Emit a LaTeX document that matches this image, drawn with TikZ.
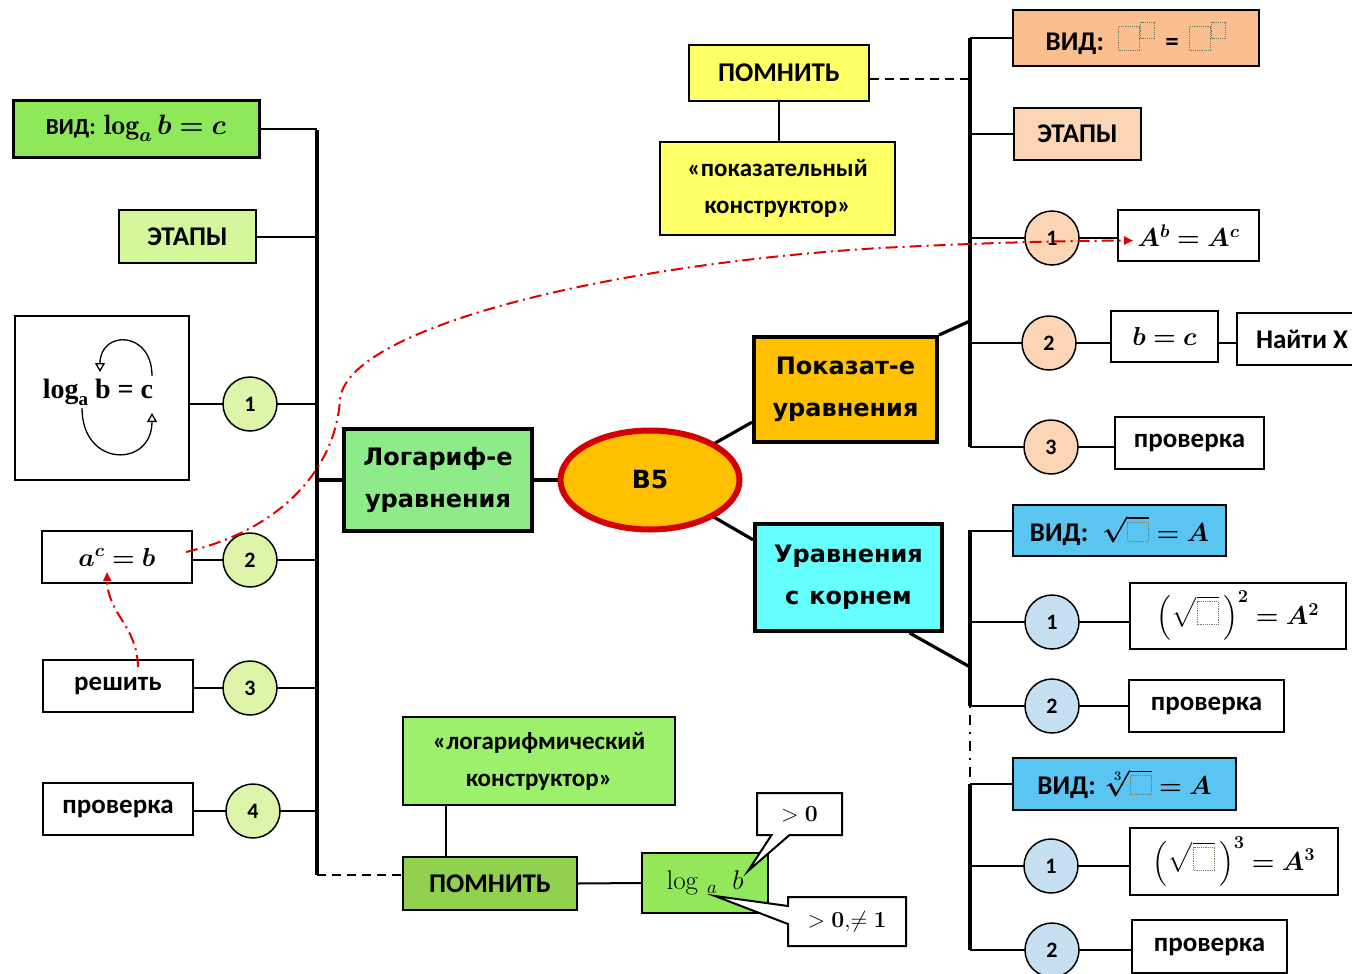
\RequirePackage{fix-cm}
\documentclass[tikz,border=0pt]{standalone}
\usepackage{amsmath,bm}
\usepackage{fontspec}
\usetikzlibrary{arrows.meta,shapes.geometric,shapes.callouts,backgrounds,calc}
\newfontfamily\calfont{Carlito}
\newfontfamily\dvs{DejaVu Sans}
\newfontfamily\tms{Liberation Serif}
\definecolor{gVid}{HTML}{8FE85A}
\definecolor{gEtap}{HTML}{D4F79C}
\definecolor{gCirc}{HTML}{DCF5AA}
\definecolor{gHead}{HTML}{8EEB8A}
\definecolor{gKon}{HTML}{9CF06B}
\definecolor{gPom}{HTML}{92D050}
\definecolor{gLog}{HTML}{92E85A}
\definecolor{orng}{HTML}{FFC000}
\definecolor{b5red}{HTML}{D40000}
\definecolor{cyanH}{HTML}{66FFFF}
\definecolor{yel}{HTML}{FFFF66}
\definecolor{peachV}{HTML}{FBBE8E}
\definecolor{peachL}{HTML}{FCD5B4}
\definecolor{blueV}{HTML}{5BC5F2}
\definecolor{blueC}{HTML}{C6E0F2}
\definecolor{redc}{HTML}{E00000}
\definecolor{phcol}{HTML}{6F7F60}
\newcommand{\phb}[2]{\tikz[baseline=0pt]\draw[phcol,densely dotted,line width=1.2pt] (0pt,0pt) rectangle (#1,#2);}
\newcommand{\phsup}{\phb{21pt}{24pt}\raisebox{12pt}{\phb{14pt}{16pt}}}
\begin{document}
\begin{tikzpicture}[x=1pt,y=-1pt,
  bx/.style={draw, line width=2pt, inner sep=0pt, align=center, text=black},
  lbl/.style={font=\calfont\bfseries\fontsize{27}{37}\selectfont},
  hdr/.style={font=\dvs\bfseries\fontsize{24}{42}\selectfont},
  mth/.style={font=\fontsize{26}{30}\selectfont},
  circ/.style={circle, draw, line width=1.5pt, minimum size=54, inner sep=0pt, font=\calfont\bfseries\fontsize{22}{24}\selectfont},
  ln/.style={line width=2pt},
  trunk/.style={line width=3.2pt},
  redline/.style={draw=redc, line width=2pt, dash pattern=on 12pt off 5pt on 2pt off 5pt},
  co/.style={bx, rectangle callout, fill=white, callout pointer width=18pt, font=\fontsize{23}{26}\selectfont}
]
\useasboundingbox (0,0) rectangle (1352,974);

% ---------- left branch ----------
\node[bx, lbl, line width=3pt, fill=gVid, minimum width=246, minimum height=57] (vidL) at (136,128.5)
  {{\fontsize{23}{25}\selectfont ВИД:}\hspace{8pt}{\fontsize{28}{30}\selectfont$\boldsymbol{\log_a b = c}$}};
\node[bx, lbl, fill=gEtap, minimum width=137, minimum height=53] (etapL) at (187.5,236.5) {ЭТАПЫ};
\node[bx, fill=white, minimum width=174, minimum height=164] (loopbox) at (102,398) {};
\node[font=\tms\bfseries\fontsize{28}{30}\selectfont, inner sep=0pt] (looptxt) at (98,392)
  {log\raisebox{-7pt}{\fontsize{19}{19}\selectfont a} b = c};
\node[circ, fill=gCirc] (c1L) at (250,404) {1};
\node[bx, mth, fill=white, minimum width=150, minimum height=52] (acb) at (117,557) {$\boldsymbol{a^{c} = b}$};
\node[circ, fill=gCirc] (c2L) at (250,560) {2};
\node[bx, lbl, fill=white, minimum width=150, minimum height=52] (resh) at (118,686) {решить};
\node[circ, fill=gCirc] (c3L) at (250,688) {3};
\node[bx, lbl, fill=white, minimum width=150, minimum height=52] (provL) at (118,809) {проверка};
\node[circ, fill=gCirc] (c4L) at (253,811) {4};

\node[bx, hdr, line width=4pt, fill=gHead, minimum width=188, minimum height=102] (logeq) at (438,480) {Логариф-е\\уравнения};
\node[ellipse, draw=b5red, line width=6pt, fill=orng, minimum width=179, minimum height=99, inner sep=0pt,
  font=\dvs\bfseries\fontsize{25}{28}\selectfont] (B5) at (650,480) {B5};
\node[bx, hdr, line width=4pt, fill=orng, minimum width=183, minimum height=105] (pokaz) at (845.5,389.5) {Показат-е\\уравнения};
\node[bx, hdr, line width=4pt, fill=cyanH, minimum width=187, minimum height=107] (koren) at (848.5,577.5) {Уравнения\\с\hspace{10pt}корнем};

% ---------- bottom ----------
\node[bx, fill=gKon, minimum width=272, minimum height=88, font=\calfont\bfseries\fontsize{25}{37}\selectfont] (konstrL) at (539,761) {«логарифмический\\конструктор»};
\node[bx, lbl, fill=gPom, minimum width=174, minimum height=53] (pomnL) at (490,883.5) {ПОМНИТЬ};
\node[bx, fill=gLog, minimum width=126, minimum height=60, font=\fontsize{27}{30}\selectfont] (logab) at (705,883) {$\log\,{}_{a}\;\; b$};
\coordinate (pb) at (748,871);
\coordinate (pa) at (715,896);
\node[co, callout absolute pointer={(pb)}, minimum width=85, minimum height=42] (gt0) at (799.5,814) {$>\boldsymbol{0}$};
\node[co, callout absolute pointer={(pa)}, minimum width=118, minimum height=49] (gt01) at (847,921.5) {$>\boldsymbol{0},\!\neq \boldsymbol{1}$};

% ---------- upper right ----------
\node[bx, lbl, fill=yel, minimum width=180, minimum height=56] (pomnR) at (779,73) {ПОМНИТЬ};
\node[bx, fill=yel, minimum width=235, minimum height=93, font=\calfont\bfseries\fontsize{25}{37}\selectfont] (konstrR) at (777.5,188.5) {«показательный\\конструктор»};
\node[bx, lbl, fill=peachV, minimum width=246, minimum height=56] (vidR) at (1136,38)
  {ВИД:\hspace{14pt}\phsup\hspace{10pt}=\hspace{10pt}\phsup};
\node[bx, lbl, fill=peachL, minimum width=127, minimum height=52] (etapR) at (1077.5,134) {ЭТАПЫ};
\node[circ, fill=peachL] (c1R) at (1052,238) {1};
\node[bx, mth, fill=white, minimum width=141, minimum height=51] (AbAc) at (1188.5,235.5) {$\boldsymbol{A^{b} = A^{c}}$};
\node[circ, fill=peachL] (c2R) at (1049,343) {2};
\node[bx, mth, fill=white, minimum width=107, minimum height=51] (bc) at (1164.5,336.5) {$\boldsymbol{b = c}$};
\node[bx, lbl, fill=white, minimum width=130, minimum height=52] (naiti) at (1302,339) {Найти X};
\node[circ, fill=peachL] (c3R) at (1051,447) {3};
\node[bx, lbl, fill=white, minimum width=149, minimum height=52] (provR) at (1189.5,443) {проверка};

% ---------- lower right ----------
\node[bx, lbl, fill=blueV, minimum width=213, minimum height=51] (vidSq) at (1119.5,530.5)
  {ВИД:\hspace{14pt}{\fontsize{26}{30}\selectfont$\boldsymbol{\sqrt{\mbox{\phb{21pt}{19pt}}} = A}$}};
\node[circ, fill=blueC] (c1S) at (1052,622) {1};
\node[bx, mth, fill=white, minimum width=216, minimum height=66] (sq2) at (1238,616)
  {$\boldsymbol{\left(\sqrt{\mbox{\phb{21pt}{23pt}}}\,\right)^{2} = A^{2}}$};
\node[circ, fill=blueC] (c2S) at (1052,706) {2};
\node[bx, lbl, fill=white, minimum width=155, minimum height=52] (provS) at (1206.5,706) {проверка};
\node[bx, lbl, fill=blueV, minimum width=223, minimum height=52] (vidCb) at (1124.5,784)
  {ВИД:\hspace{10pt}{\fontsize{26}{30}\selectfont$\boldsymbol{\sqrt[3]{\mbox{\phb{21pt}{19pt}}} = A}$}};
\node[circ, fill=blueC] (c1C) at (1051,866) {1};
\node[bx, mth, fill=white, minimum width=208, minimum height=67] (cb3) at (1234,861.5)
  {$\boldsymbol{\left(\sqrt{\mbox{\phb{21pt}{23pt}}}\,\right)^{3} = A^{3}}$};
\node[circ, fill=blueC] (c2C) at (1052,950) {2};
\node[bx, lbl, fill=white, minimum width=155, minimum height=53] (provC) at (1209.5,946.5) {проверка};

% ---------- connectors ----------
\begin{scope}[on background layer]
  \coordinate (LT) at (317,130);
  \coordinate (LB) at (317,875);
  \draw[trunk] (LT) -- (LB);
  \draw[ln] (vidL.east) -- (vidL.east -| LT);
  \draw[ln] (etapL.east) -- (etapL.east -| LT);
  \draw[ln] (c1L.center -| loopbox.east) -- (c1L.center -| LT);
  \draw[ln] (c2L.center -| acb.east) -- (c2L.center -| LT);
  \draw[ln] (c3L.center -| resh.east) -- (c3L.center -| LT);
  \draw[ln] (c4L.center -| provL.east) -- (c4L.center -| LT);
  \draw[trunk] (logeq.west -| LT) -- (logeq.west);
  \draw[trunk] (logeq.east) -- (B5.center);
  \draw[ln, dash pattern=on 9pt off 6pt] (LB) -- (LB -| pomnL.west);
  \draw[ln] ($(konstrL.south west)+(44,0)$) -- ($(pomnL.north west)+(44,0)$);
  \draw[ln] (pomnL.east) -- (logab.west);

  \coordinate (pkA) at ($(pokaz.south west)!0.2!(pokaz.north west)$);
  \draw[trunk] (B5.center) -- (pkA);
  \coordinate (krA) at ($(koren.north west)!0.16!(koren.south west)$);
  \draw[trunk] (B5.center) -- (krA);

  \coordinate (RT) at (970,38);
  \coordinate (RB) at (970,447);
  \coordinate (RJ) at (970,321);
  \draw[trunk] (RT) -- (RB);
  \draw[trunk] (pokaz.north east) -- (RJ);
  \draw[ln] (vidR.west) -- (vidR.west -| RT);
  \draw[ln, dash pattern=on 9pt off 6pt] ([yshift=-6pt]pomnR.east) -- ([yshift=-6pt]pomnR.east -| RT);
  \draw[ln] (pomnR.south) -- (pomnR.south |- konstrR.north);
  \draw[ln] (etapR.west) -- (etapR.west -| RT);
  \draw[ln] (c1R.center -| RT) -- (c1R.center -| AbAc.west);
  \draw[ln] (c2R.center -| RT) -- (c2R.center -| naiti.west);
  \draw[ln] (c3R.center -| RT) -- (c3R.center -| provR.west);

  \coordinate (RT2) at (970,530);
  \coordinate (RM1) at (970,706);
  \coordinate (RM2) at (970,784);
  \coordinate (RB2) at (970,950);
  \coordinate (RJ2) at (970,667);
  \draw[trunk] (RT2) -- (RM1);
  \draw[ln, dash pattern=on 2pt off 7pt on 10pt off 7pt] (RM1) -- (RM2);
  \draw[trunk] (RM2) -- (RB2);
  \coordinate (kB) at ($(koren.south west)!0.82!(koren.south east)$);
  \draw[trunk] (kB) -- (RJ2);
  \draw[ln] (vidSq.west) -- (vidSq.west -| RT2);
  \draw[ln] (c1S.center -| RT2) -- (c1S.center -| sq2.west);
  \draw[ln] (c2S.center -| RT2) -- (c2S.center -| provS.west);
  \draw[ln] (vidCb.west) -- (vidCb.west -| RT2);
  \draw[ln] (c1C.center -| RT2) -- (c1C.center -| cb3.west);
  \draw[ln] (c2C.center -| RT2) -- (c2C.center -| provC.west);
\end{scope}

% loop arrows in the log box
\draw[line width=1.3pt, -{Triangle[open, length=9pt, width=10pt]}]
  ($(loopbox)+(50,-22)$) .. controls ($(loopbox)+(50,-68)$) and ($(loopbox)+(-2,-68)$) .. ($(loopbox)+(-2,-26)$);
\draw[line width=1.3pt, -{Triangle[open, length=9pt, width=10pt]}]
  ($(loopbox)+(-20,10)$) .. controls ($(loopbox)+(-20,70)$) and ($(loopbox)+(50,70)$) .. ($(loopbox)+(50,15)$);

% red dash-dot curves
\draw[redline, -{Triangle[length=9pt, width=8pt]}]
  ($(acb.east)+(-7,-5)$) .. controls (280,530) and (335,470) .. (340,400)
  .. controls (345,330) and (600,265) .. (880,248)
  .. controls (980,243) and (1050,241) .. ($(AbAc.west)+(16,5)$);
\draw[redline, -{Triangle[length=9pt, width=8pt]}]
  ($(resh.north)+(20,8)$) .. controls (137,625) and (108,615) .. ($(acb.south)+(-10,-12)$);
\end{tikzpicture}
\end{document}
